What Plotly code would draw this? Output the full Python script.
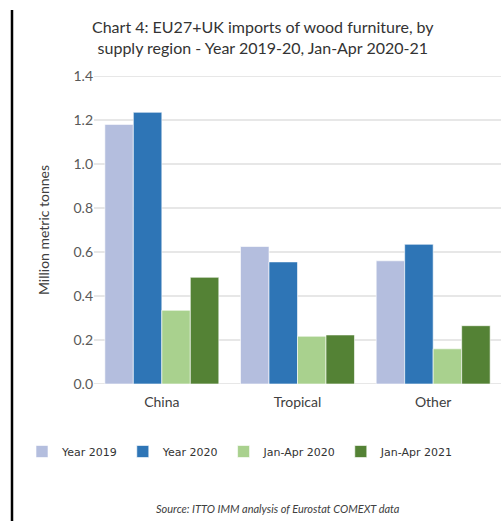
import plotly.graph_objects as go

# Supply regions and import volumes (million metric tonnes)
regions = ["China", "Tropical", "Other"]
series_names = ["Year 2019", "Year 2020", "Jan-Apr 2020", "Jan-Apr 2021"]
year_2019 = [1.18, 0.625, 0.56]
year_2020 = [1.235, 0.555, 0.635]
jan_apr_2020 = [0.335, 0.217, 0.16]
jan_apr_2021 = [0.485, 0.223, 0.265]
y_ticks = [0.0, 0.2, 0.4, 0.6, 0.8, 1.0, 1.2, 1.4]

series_values = [year_2019, year_2020, jan_apr_2020, jan_apr_2021]
colors = ["#B4BEDE", "#2E75B6", "#A9D18E", "#548235"]

W, H = 504, 521
ML, MR, MT, MB = 94, 3, 76, 137
PW, PH = W - ML - MR, H - MT - MB


def px_x(p):
    return (p - ML) / PW


def px_y(p):
    return (H - MB - p) / PH


fig = go.Figure()
for name, vals, col in zip(series_names, series_values, colors):
    fig.add_trace(go.Bar(
        x=regions, y=vals, name=name,
        marker=dict(color=col, line=dict(color="white", width=0.6)),
    ))

grid_col = "#D0D0D0"
fig.update_layout(
    template="none",
    width=W, height=H,
    margin=dict(l=ML, r=MR, t=MT, b=MB),
    paper_bgcolor="white", plot_bgcolor="white",
    barmode="group", bargap=0.16, bargroupgap=0.0,
    font=dict(family="DejaVu Sans", size=12, color="#595959"),
    showlegend=True,
    legend=dict(
        orientation="h", xref="paper", yref="paper",
        x=px_x(22), xanchor="left", y=px_y(437), yanchor="top",
        font=dict(family="DejaVu Sans", size=11, color="#333333"),
        itemclick=False, traceorder="normal",
    ),
    xaxis=dict(
        showgrid=False, showline=False,
        ticks="", tickfont=dict(family="Lato", size=14, color="#404040"),
        ticklabelstandoff=8,
    ),
    yaxis=dict(
        range=[0, 1.4], tickmode="array", tickvals=y_ticks,
        ticktext=[f"{v:.1f}" for v in y_ticks],
        showgrid=False, zeroline=False, showline=False, ticks="",
        tickfont=dict(family="Lato", size=14, color="#595959"),
        title=dict(text="Million metric tonnes",
                   font=dict(family="Lato", size=14, color="#404040"),
                   standoff=20),
    ),
)

# Horizontal gridlines at each y tick, drawn beneath the bars
for v in y_ticks:
    fig.add_shape(
        type="line", xref="paper", yref="y", x0=0, x1=1, y0=v, y1=v,
        line=dict(color=grid_col, width=1.2), layer="below",
    )

# Chart title (two lines)
fig.add_annotation(
    text="Chart 4: EU27+UK imports of wood furniture, by<br>supply region - Year 2019-20, Jan-Apr 2020-21",
    xref="paper", yref="paper", x=px_x(263), y=px_y(37),
    xanchor="center", yanchor="middle", showarrow=False,
    font=dict(family="Lato", size=16, color="#333333"), align="center",
)

# Source note
fig.add_annotation(
    text="<i>Source: ITTO IMM analysis of Eurostat COMEXT data</i>",
    xref="paper", yref="paper", x=px_x(278), y=px_y(508),
    xanchor="center", yanchor="middle", showarrow=False,
    font=dict(family="Lato", size=11, color="#404040"),
)

# Black rule along the left edge
fig.add_shape(
    type="line", xref="paper", yref="paper",
    x0=px_x(12), x1=px_x(12), y0=px_y(10), y1=px_y(521),
    line=dict(color="black", width=2.5),
)

fig.write_html("out.html")
